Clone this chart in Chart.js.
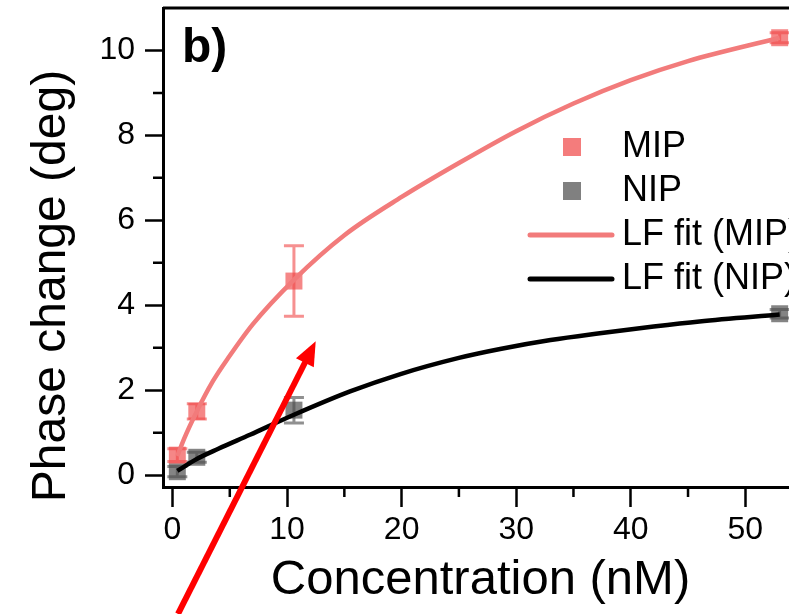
<!DOCTYPE html>
<html lang="en">
<head>
    <meta charset="UTF-8">
    <title>Phase change vs concentration (b)</title>
    <script src="https://cdn.jsdelivr.net/npm/chart.js@4"></script>
    <style>
        html, body { margin: 0; padding: 0; background: #fff; overflow: hidden; }
        #wrap { width: 789px; height: 614px; overflow: hidden; }
        #phaseChart { display: block; }
    </style>
</head>
<body>
    <div id="wrap"><canvas id="phaseChart" width="800" height="614"></canvas></div>

    <script>
        // concentrations of the standards (nM)
        const concentrations = [0.42, 2.12, 10.6, 53];

        // measured phase change (deg) with error bars
        const mipPhase = [0.47, 1.5, 4.57, 10.3];
        const mipError = [0.15, 0.18, 0.83, 0.12];
        const nipPhase = [0.08, 0.42, 1.53, 3.8];
        const nipError = [0.12, 0.12, 0.3, 0.1];

        // Langmuir-Freundlich fit curves
        const mipFitX = [0.42, 1, 2.12, 3.5, 4.84, 7, 10.6, 15, 20, 25, 30, 35, 40, 45, 53];
        const mipFitY = [0.45, 0.85, 1.5, 2.2, 2.75, 3.55, 4.6, 5.65, 6.55, 7.35, 8.1, 8.75, 9.3, 9.75, 10.3];
        const nipFitX = [0.42, 2.12, 4, 6.76, 10.6, 15.5, 19.9, 25, 28.6, 33, 37.3, 42, 46, 53];
        const nipFitY = [0.1, 0.38, 0.62, 0.95, 1.42, 1.97, 2.38, 2.76, 2.97, 3.18, 3.34, 3.5, 3.62, 3.78];

        // axis ticks
        const xTicks = [0, 10, 20, 30, 40, 50];
        const xMinorTicks = [5, 15, 25, 35, 45];
        const yTicks = [0, 2, 4, 6, 8, 10];
        const yMinorTicks = [1, 3, 5, 7, 9];

        // red arrow annotation (data coordinates)
        const arrowFrom = { x: 0.48, y: -3.27 };
        const arrowTo = { x: 12.5, y: 3.15 };

        const FONT = "'Liberation Sans', Arial, sans-serif";
        const pts = (xs, ys) => xs.map((x, i) => ({ x: x, y: ys[i] }));

        const extras = {
            id: 'extras',
            beforeDatasetsDraw(chart) {
                const { ctx, scales: { x, y } } = chart;
                chart.data.datasets.forEach(ds => {
                    if (!ds.errors) return;
                    ctx.save();
                    ctx.strokeStyle = ds.errorColor;
                    ctx.lineWidth = 3;
                    ds.data.forEach((p, i) => {
                        const px = x.getPixelForValue(p.x);
                        const top = y.getPixelForValue(p.y + ds.errors[i]);
                        const bot = y.getPixelForValue(p.y - ds.errors[i]);
                        ctx.beginPath();
                        ctx.moveTo(px, top); ctx.lineTo(px, bot);
                        ctx.moveTo(px - 10, top); ctx.lineTo(px + 10, top);
                        ctx.moveTo(px - 10, bot); ctx.lineTo(px + 10, bot);
                        ctx.stroke();
                    });
                    ctx.restore();
                });
            },
            afterDraw(chart) {
                const { ctx, chartArea: a, scales: { x, y } } = chart;
                ctx.save();
                ctx.strokeStyle = '#000';

                // top and right frame
                ctx.lineWidth = 3;
                ctx.beginPath();
                ctx.moveTo(a.left, a.top); ctx.lineTo(a.right, a.top); ctx.lineTo(a.right, a.bottom);
                ctx.stroke();

                // minor ticks
                ctx.lineWidth = 2.5;
                ctx.beginPath();
                xMinorTicks.forEach(v => {
                    const px = x.getPixelForValue(v);
                    ctx.moveTo(px, a.bottom); ctx.lineTo(px, a.bottom + 10);
                });
                yMinorTicks.forEach(v => {
                    const py = y.getPixelForValue(v);
                    ctx.moveTo(a.left, py); ctx.lineTo(a.left - 10, py);
                });
                ctx.stroke();

                // panel label
                ctx.fillStyle = '#000';
                ctx.font = 'bold 48px ' + FONT;
                ctx.textAlign = 'left';
                ctx.textBaseline = 'alphabetic';
                ctx.fillText('b)', a.left + 19, a.top + 54);

                // y axis title
                ctx.save();
                ctx.font = '48px ' + FONT;
                ctx.translate(52, 286);
                ctx.rotate(-Math.PI / 2);
                ctx.textAlign = 'center';
                ctx.textBaseline = 'middle';
                ctx.fillText('Phase change (deg)', 0, 0);
                ctx.restore();

                // legend
                ctx.font = '36px ' + FONT;
                ctx.textBaseline = 'middle';
                const lx = a.left + 367, ly = a.top + 139, row = 44;
                chart.data.datasets.forEach((ds, i) => {
                    const cy = ly + i * row;
                    if (ds.showLine) {
                        ctx.strokeStyle = ds.borderColor;
                        ctx.lineWidth = 5;
                        ctx.lineCap = 'round';
                        ctx.beginPath();
                        ctx.moveTo(lx, cy); ctx.lineTo(lx + 82, cy);
                        ctx.stroke();
                    } else {
                        ctx.fillStyle = ds.legendColor;
                        ctx.fillRect(lx + 33, cy - 9, 18, 18);
                    }
                    ctx.fillStyle = '#000';
                    ctx.fillText(ds.label, lx + 92, cy);
                });

                // red arrow
                const x0 = x.getPixelForValue(arrowFrom.x), y0 = y.getPixelForValue(arrowFrom.y);
                const x1 = x.getPixelForValue(arrowTo.x), y1 = y.getPixelForValue(arrowTo.y);
                const ang = Math.atan2(y1 - y0, x1 - x0);
                const head = 24, half = 10;
                const bx = x1 - head * Math.cos(ang), by = y1 - head * Math.sin(ang);
                ctx.strokeStyle = '#ff0000';
                ctx.fillStyle = '#ff0000';
                ctx.lineWidth = 6;
                ctx.lineCap = 'butt';
                ctx.beginPath();
                ctx.moveTo(x0, y0); ctx.lineTo(bx + 2 * Math.cos(ang), by + 2 * Math.sin(ang));
                ctx.stroke();
                ctx.beginPath();
                ctx.moveTo(x1, y1);
                ctx.lineTo(bx + half * Math.sin(ang), by - half * Math.cos(ang));
                ctx.lineTo(bx - half * Math.sin(ang), by + half * Math.cos(ang));
                ctx.closePath();
                ctx.fill();

                ctx.restore();
            }
        };

        new Chart(document.getElementById('phaseChart'), {
            type: 'scatter',
            data: {
                datasets: [
                    {
                        label: 'MIP',
                        data: pts(concentrations, mipPhase),
                        errors: mipError,
                        errorColor: 'rgba(240, 70, 70, 0.6)',
                        legendColor: '#f47c7c',
                        pointStyle: 'rect',
                        pointRadius: 12,
                        backgroundColor: 'rgba(240, 70, 70, 0.65)',
                        borderWidth: 0,
                        order: 3
                    },
                    {
                        label: 'NIP',
                        data: pts(concentrations, nipPhase),
                        errors: nipError,
                        errorColor: 'rgba(70, 70, 70, 0.6)',
                        legendColor: '#808080',
                        pointStyle: 'rect',
                        pointRadius: 12,
                        backgroundColor: 'rgba(80, 80, 80, 0.7)',
                        borderWidth: 0,
                        order: 4
                    },
                    {
                        label: 'LF fit (MIP)',
                        data: pts(mipFitX, mipFitY),
                        showLine: true,
                        borderColor: '#f27b7b',
                        borderWidth: 4.5,
                        pointRadius: 0,
                        cubicInterpolationMode: 'monotone',
                        order: 1
                    },
                    {
                        label: 'LF fit (NIP)',
                        data: pts(nipFitX, nipFitY),
                        showLine: true,
                        borderColor: '#000',
                        borderWidth: 4.5,
                        pointRadius: 0,
                        cubicInterpolationMode: 'monotone',
                        order: 2
                    }
                ]
            },
            options: {
                responsive: false,
                devicePixelRatio: 1,
                animation: false,
                events: [],
                layout: { autoPadding: false, padding: { top: 8, right: 2, left: 0, bottom: 0 } },
                plugins: { legend: { display: false }, tooltip: { enabled: false } },
                scales: {
                    x: {
                        type: 'linear',
                        min: -0.83,
                        max: 54.6,
                        afterBuildTicks: s => { s.ticks = xTicks.map(v => ({ value: v })); },
                        afterFit: s => { s.height = 127; s.paddingLeft = 0; s.paddingRight = 0; },
                        border: { display: true, color: '#000', width: 3 },
                        grid: { drawOnChartArea: false, drawTicks: true, tickLength: 20, tickWidth: 2.5, tickColor: '#000' },
                        ticks: { color: '#000', font: { family: FONT, size: 32 }, padding: 4, maxRotation: 0 },
                        title: { display: true, text: 'Concentration (nM)', color: '#000', font: { family: FONT, size: 49 }, padding: { bottom: 4 } }
                    },
                    y: {
                        type: 'linear',
                        min: -0.28,
                        max: 11,
                        afterBuildTicks: s => { s.ticks = yTicks.map(v => ({ value: v })); },
                        afterFit: s => { s.width = 163; s.paddingTop = 0; s.paddingBottom = 0; },
                        border: { display: true, color: '#000', width: 3 },
                        grid: { drawOnChartArea: false, drawTicks: true, tickLength: 18, tickWidth: 2.5, tickColor: '#000' },
                        ticks: { color: '#000', font: { family: FONT, size: 32 }, padding: 10 }
                    }
                }
            },
            plugins: [extras]
        });
    </script>
</body>
</html>
